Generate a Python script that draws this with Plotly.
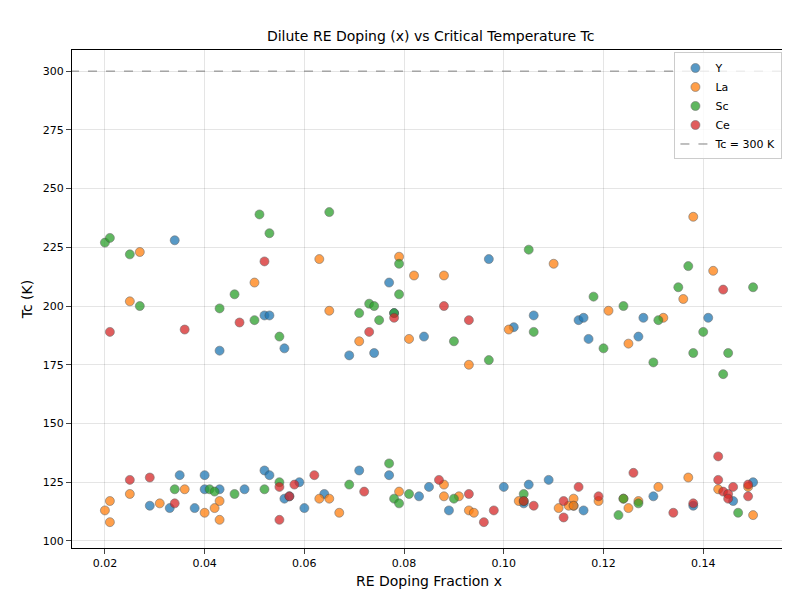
import plotly.graph_objects as go

y_x = [0.034,0.043,0.052,0.053,0.056,0.069,0.074,0.077,0.078,0.084,0.097,0.102,0.106,0.115,0.116,0.117,0.127,0.128,0.141,
       0.029,0.033,0.035,0.038,0.040,0.040,0.043,0.048,0.052,0.053,0.056,0.057,0.059,0.060,0.064,0.071,0.077,0.083,0.085,0.089,0.100,0.104,0.105,0.109,0.114,0.116,0.130,0.138,0.146,0.150]
y_tc = [228,181,196,196,182,179,180,210,197,187,220,191,196,194,195,186,187,195,195,
        115,114,128,114,128,122,122,122,130,128,118,119,125,114,120,130,128,119,123,113,123,116,124,126,115,113,119,115,117,125]

la_x = [0.027,0.025,0.050,0.063,0.065,0.071,0.079,0.081,0.082,0.088,0.093,0.101,0.110,0.121,0.125,0.132,0.136,0.138,0.142,
        0.020,0.021,0.021,0.025,0.031,0.036,0.040,0.042,0.043,0.043,0.063,0.065,0.067,0.079,0.088,0.088,0.091,0.093,0.094,0.103,0.111,0.113,0.114,0.114,0.119,0.124,0.125,0.127,0.131,0.137,0.143,0.149,0.150]
la_tc = [223,202,210,220,198,185,221,186,213,213,175,190,218,198,184,195,203,238,215,
         113,117,108,120,116,122,112,114,117,109,118,118,112,121,119,124,119,113,112,117,114,115,118,115,117,118,114,117,123,127,122,123,111]

sc_x = [0.020,0.021,0.025,0.027,0.043,0.046,0.050,0.051,0.053,0.055,0.065,0.071,0.073,0.074,0.075,0.078,0.079,0.079,0.090,0.097,0.105,0.106,0.118,0.120,0.124,0.130,0.131,0.135,0.137,0.138,0.140,0.144,0.145,0.150,
        0.034,0.041,0.042,0.046,0.052,0.055,0.069,0.077,0.078,0.079,0.081,0.090,0.104,0.104,0.123,0.124,0.127,0.147]
sc_tc = [227,229,222,200,199,205,194,239,231,187,240,197,201,200,194,197,218,205,185,177,224,189,204,182,200,176,194,208,217,180,189,171,180,208,
         122,122,121,120,122,125,124,133,118,116,120,118,117,120,111,118,116,112]

ce_x = [0.021,0.036,0.047,0.052,0.073,0.078,0.088,0.093,0.144,
        0.025,0.029,0.034,0.055,0.055,0.057,0.058,0.062,0.072,0.087,0.093,0.096,0.098,0.104,0.106,0.112,0.112,0.115,0.119,0.126,0.134,0.138,0.143,0.143,0.144,0.145,0.145,0.146,0.149,0.149]
ce_tc = [189,190,193,219,189,195,200,194,207,
         126,127,116,123,109,119,124,128,121,126,120,108,113,117,115,117,110,123,119,129,112,116,126,136,121,120,118,123,119,124]

series = [("Y", y_x, y_tc, "#1f77b4"), ("La", la_x, la_tc, "#ff7f0e"),
          ("Sc", sc_x, sc_tc, "#2ca02c"), ("Ce", ce_x, ce_tc, "#d62728")]

fig = go.Figure()
for name, xs, ys, c in series:
    fig.add_trace(go.Scatter(x=xs, y=ys, mode="markers", name=name,
                             marker=dict(color=c, size=9, opacity=0.75,
                                         line=dict(color="#444", width=0.6))))
fig.add_trace(go.Scatter(x=[0.013, 0.157], y=[300, 300], mode="lines", name="Tc = 300 K",
                         line=dict(color="gray", dash="dash", width=1)))

ax = dict(showline=True, linecolor="black", mirror=True, ticks="outside", automargin=False,
          gridcolor="rgba(0,0,0,0.1)", zeroline=False, tickfont=dict(size=11))
fig.update_layout(
    width=790, height=590, template="none",
    font=dict(family="DejaVu Sans", size=12, color="black"),
    title=dict(text="Dilute RE Doping (x) vs Critical Temperature Tc", x=0.535, xanchor="center",
               y=0.96, font=dict(size=14)),
    margin=dict(l=64, r=12, t=42, b=50),
    xaxis=dict(ax, title=dict(text="RE Doping Fraction x", standoff=6), range=[0.0134, 0.1566],
               tickvals=[0.02,0.04,0.06,0.08,0.1,0.12,0.14], ticktext=["0.02","0.04","0.06","0.08","0.10","0.12","0.14"]),
    yaxis=dict(ax, title=dict(text="Tc (K)", standoff=6), range=[97, 309], dtick=25),
    legend=dict(x=0.995, y=0.995, xanchor="right", yanchor="top", bgcolor="rgba(255,255,255,0.8)",
                bordercolor="#ccc", borderwidth=1, font=dict(size=11)),
    plot_bgcolor="white", paper_bgcolor="white",
)
fig.write_html("out.html")
